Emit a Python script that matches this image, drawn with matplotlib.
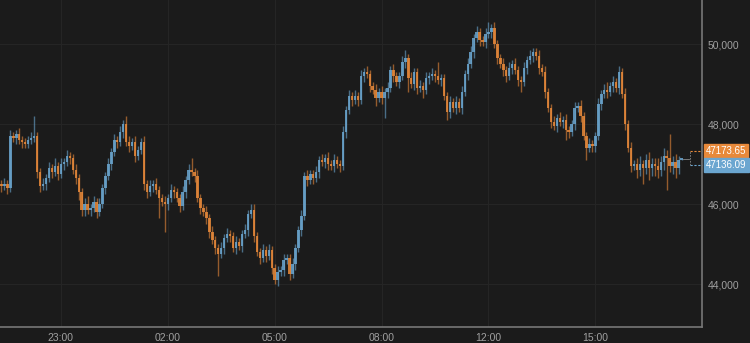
import numpy as np
import matplotlib
matplotlib.use("Agg")
import matplotlib.pyplot as plt
from matplotlib.ticker import FuncFormatter


# 5-minute candles, closes
closes = [
    46450, 46500, 46400, 47700, 47650, 47750, 47600, 47550, 47500, 47600,
    47650, 47700, 46800, 46450, 46500, 46650, 46900, 46800, 46950, 46750,
    47000, 47050, 47200, 47150, 46850, 46650, 46300, 45850, 46000, 45850,
    45900, 46050, 45800, 46000, 46400, 46700, 47000, 47300, 47600, 47550,
    47800, 48000, 47550, 47450, 47550, 47200, 47350, 47550, 46500, 46300,
    46450, 46500, 46350, 46150, 46050, 46000, 46150, 46350, 46300, 46150,
    45950, 46300, 46600, 46850, 46800, 46700, 46150, 45900, 45800, 45650,
    45300, 45100, 44900, 44750, 44900, 45150, 45250, 45200, 44900, 45050,
    44950, 45250, 45350, 45750, 45850, 45200, 44800, 44650, 44850, 44700,
    44850, 44400, 44100, 44300, 44350, 44600, 44650, 44250, 44500, 44900,
    45350, 45700, 46700, 46600, 46750, 46650, 46800, 47100, 47050, 47150,
    47000, 46950, 47100, 47000, 46950, 47800, 48350, 48700, 48600, 48700,
    48600, 49200, 49300, 49250, 48950, 48850, 48650, 48800, 48650, 48800,
    48900, 49350, 49200, 49050, 49200, 49550, 49650, 49150, 49000, 49300,
    48900, 48950, 48850, 49150, 49200, 49250, 49200, 49100, 49150, 48700,
    48300, 48550, 48400, 48550, 48400, 48800, 49250, 49500, 49800, 50150,
    50300, 50100, 50050, 50250, 50300, 50400, 50000, 49650, 49500, 49350,
    49200, 49400, 49500, 49350, 49100, 49050, 49400, 49600, 49700, 49800,
    49700, 49400, 49300, 48800, 48400, 48050, 47950, 48150, 48050, 48100,
    47850, 47800, 48000, 48400, 48450, 48200, 47700, 47400, 47500, 47450,
    47700, 48500, 48750, 48850, 48800, 48950, 49050, 48900, 49300, 48750,
    48000, 47400, 46950, 47000, 46850, 47000, 46900, 47100, 46900, 47000,
    46950, 46850, 47050, 47200, 47150, 46950, 47050, 46900, 47100, 47136,
]
first_open = 46500

# wick lengths above / below the body, in steps of 50
wick_up = [
    2, 3, 2, 3, 2, 2, 3, 2, 2, 2,
    3, 10, 2, 2, 3, 2, 3, 2, 4, 2,
    3, 2, 3, 2, 2, 3, 2, 2, 3, 4,
    2, 3, 2, 3, 2, 2, 3, 2, 3, 2,
    3, 2, 4, 3, 2, 3, 2, 2, 3, 2,
    3, 2, 3, 2, 2, 3, 2, 3, 2, 2,
    2, 3, 2, 3, 6, 2, 3, 2, 2, 3,
    2, 3, 2, 2, 3, 2, 3, 2, 2, 3,
    2, 2, 3, 2, 3, 3, 2, 2, 3, 2,
    3, 2, 2, 3, 2, 3, 2, 2, 3, 2,
    2, 3, 2, 3, 2, 2, 3, 2, 3, 2,
    3, 2, 3, 2, 2, 3, 2, 3, 2, 3,
    2, 3, 2, 3, 2, 2, 3, 2, 3, 2,
    3, 2, 3, 2, 2, 3, 4, 2, 3, 2,
    2, 3, 2, 3, 2, 3, 2, 7, 2, 2,
    2, 3, 2, 3, 2, 3, 2, 3, 3, 2,
    3, 2, 2, 3, 5, 2, 3, 2, 2, 3,
    2, 3, 2, 3, 2, 2, 3, 2, 3, 2,
    2, 3, 2, 3, 2, 2, 3, 2, 3, 2,
    3, 2, 2, 3, 2, 3, 2, 2, 3, 2,
    2, 3, 2, 3, 4, 2, 3, 2, 3, 2,
    3, 2, 3, 2, 3, 4, 2, 3, 4, 3,
    3, 4, 3, 4, 3, 12, 3, 4, 2, 0,
]
wick_dn = [
    3, 2, 3, 2, 2, 3, 2, 3, 2, 2,
    2, 2, 3, 3, 2, 3, 2, 3, 2, 3,
    2, 3, 2, 3, 2, 3, 4, 3, 3, 2,
    3, 2, 3, 2, 2, 3, 2, 3, 2, 3,
    2, 3, 2, 3, 2, 3, 2, 2, 3, 3,
    2, 3, 2, 10, 2, 14, 3, 2, 3, 2,
    3, 2, 3, 2, 2, 3, 2, 3, 2, 3,
    3, 2, 3, 11, 2, 3, 2, 3, 2, 3,
    2, 3, 2, 3, 2, 3, 2, 3, 2, 3,
    2, 3, 2, 3, 2, 3, 2, 3, 2, 3,
    2, 3, 2, 3, 2, 3, 2, 3, 2, 3,
    3, 2, 3, 2, 3, 2, 3, 2, 3, 2,
    3, 2, 3, 2, 3, 2, 4, 2, 3, 10,
    3, 2, 3, 2, 3, 2, 3, 7, 2, 3,
    3, 2, 4, 2, 3, 2, 3, 2, 3, 2,
    4, 3, 2, 3, 2, 3, 2, 3, 2, 3,
    2, 3, 2, 3, 2, 3, 2, 3, 2, 3,
    3, 2, 3, 2, 3, 5, 2, 3, 2, 3,
    2, 3, 2, 3, 2, 3, 2, 3, 2, 3,
    5, 3, 2, 3, 2, 3, 2, 6, 2, 3,
    3, 2, 3, 2, 3, 2, 3, 2, 3, 2,
    3, 2, 3, 2, 4, 3, 8, 3, 6, 4,
    5, 4, 3, 4, 16, 3, 4, 5, 3, 0,
]

tick_pos = [20, 56, 92, 128, 164, 200]
tick_labels = ["23:00", "02:00", "05:00", "08:00", "12:00", "15:00"]
y_ticks = [44000, 46000, 48000, 50000]

ask_price = 47173.65
bid_price = 47136.09

BG = "#1b1b1b"
BLUE = "#6ba6d0"
ORANGE = "#e8893a"

plt.rcParams["font.family"] = ["Liberation Sans", "DejaVu Sans"]

opens = np.array([first_open] + closes[:-1], dtype=float)
closes_a = np.array(closes, dtype=float)
x = np.arange(len(closes_a))
up = closes_a >= opens
cols = np.where(up, BLUE, ORANGE)
highs = np.maximum(opens, closes_a) + np.array(wick_up) * 50
lows = np.minimum(opens, closes_a) - np.array(wick_dn) * 50

fig = plt.figure(figsize=(7.5, 3.43), dpi=100, facecolor=BG)
ax = fig.add_axes([0, 0.0466, 0.936, 0.9534])
ax.set_facecolor(BG)

ax.vlines(x, lows, highs, colors=cols, lw=1.0, alpha=0.6, zorder=2)
body = np.maximum(np.abs(closes_a - opens), 50)
ax.bar(x, body, bottom=np.minimum(opens, closes_a), width=0.8,
       color=cols, alpha=0.85, linewidth=0, zorder=3)

ax.set_xlim(-0.5, 235.9)
ax.set_ylim(42925, 51100)

ax.set_xticks(tick_pos)
ax.set_xticklabels(tick_labels)
ax.set_yticks(y_ticks)
ax.yaxis.set_major_formatter(FuncFormatter(lambda v, p: f"{v:,.0f}"))
ax.yaxis.tick_right()
ax.tick_params(axis="both", length=0, colors="#a0a0a0", labelsize=7.5)
ax.tick_params(axis="y", pad=4)
ax.tick_params(axis="x", pad=4)
ax.grid(True, color="#252525", lw=0.8)
ax.set_axisbelow(True)

for s in ["top", "left"]:
    ax.spines[s].set_visible(False)
for s in ["right", "bottom"]:
    ax.spines[s].set_color("#777777")
    ax.spines[s].set_linewidth(1.2)

# bid / ask markers at the right edge
last = x[-1]
ask_y = ask_price + 150
bid_y = bid_price - 150
ax.plot([last + 3, 236], [ask_y, ask_y], ls=(0, (2, 1.5)), color=ORANGE, lw=0.8, clip_on=False)
ax.plot([last + 3, 236], [bid_y, bid_y], ls=(0, (2, 1.5)), color=BLUE, lw=0.8, clip_on=False)
ax.plot([last + 3, last + 3], [bid_y, ask_y], ls=(0, (2, 1.5)), color="#888888", lw=0.6)
ax.plot([last + 0.5, last + 2.5], [bid_price, bid_price], color="#888888", lw=0.6)

for price, yy, c in [(ask_price, ask_y, ORANGE), (bid_price, bid_y, BLUE)]:
    ax.annotate(f"{price:.2f}", xy=(1.0, yy), xycoords=("axes fraction", "data"),
                xytext=(3, 0), textcoords="offset points", va="center", ha="left",
                fontsize=7, color="white",
                bbox=dict(boxstyle="square,pad=0.2", fc=c, ec=c))

fig.savefig("out.png", dpi=100, facecolor=BG)
